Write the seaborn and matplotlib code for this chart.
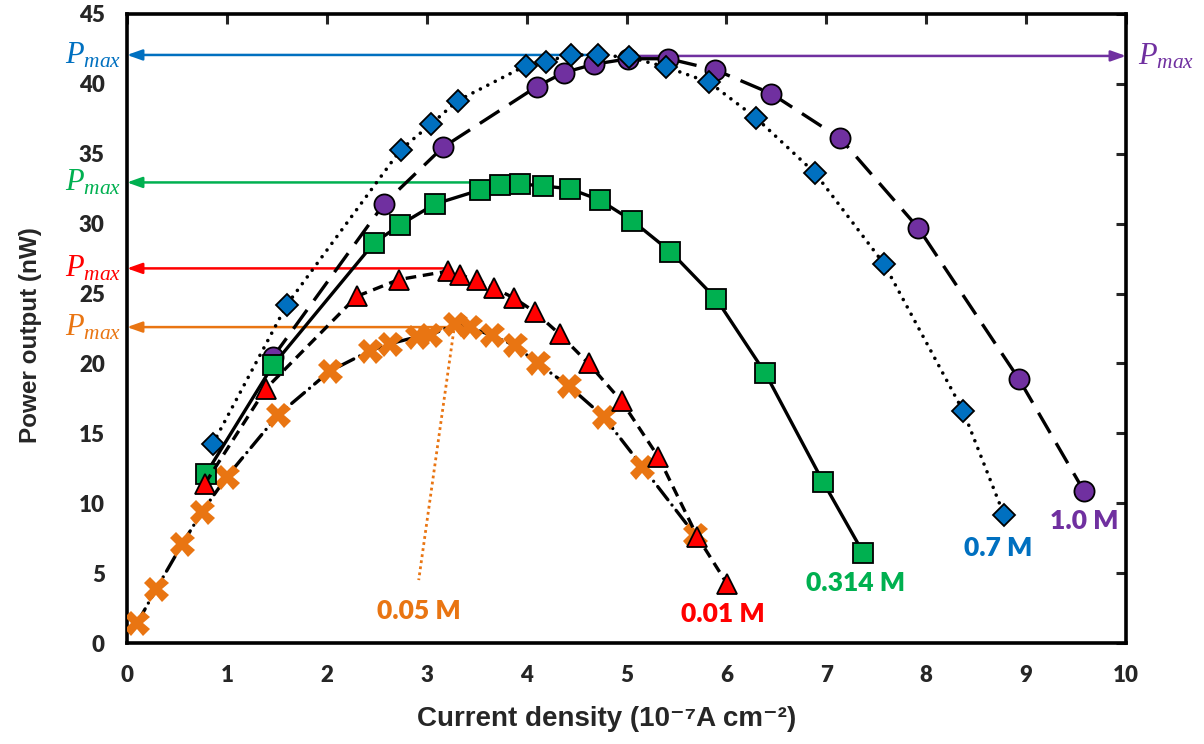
import numpy as np
import pandas as pd
import matplotlib
matplotlib.use("Agg")
import matplotlib.pyplot as plt
import seaborn as sns

# ---------------- data ----------------
x_10M = [1.46, 2.57, 3.16, 4.10, 4.37, 4.67, 5.02, 5.42, 5.89, 6.45, 7.14, 7.92, 8.93, 9.58]
p_10M = [20.45, 31.4, 35.45, 39.8, 40.8, 41.4, 41.8, 41.8, 41.0, 39.3, 36.1, 29.7, 18.86, 10.86]

x_07M = [0.86, 1.60, 2.74, 3.04, 3.31, 3.99, 4.19, 4.44, 4.71, 5.03, 5.40, 5.83, 6.30, 6.89, 7.58, 8.37, 8.78]
p_07M = [14.26, 24.2, 35.3, 37.1, 38.8, 41.3, 41.6, 42.07, 42.07, 41.9, 41.2, 40.1, 37.55, 33.6, 27.1, 16.6, 9.14]

x_005M = [0.10, 0.29, 0.55, 0.75, 1.00, 1.51, 2.03, 2.43, 2.63, 2.90, 3.03, 3.28, 3.43, 3.65,
          3.88, 4.11, 4.42, 4.77, 5.16, 5.69]
p_005M = [1.40, 3.83, 7.05, 9.38, 11.9, 16.3, 19.45, 20.9, 21.4, 21.9, 22.0, 22.8, 22.6, 22.0,
          21.3, 20.0, 18.4, 16.2, 12.6, 7.7]

x_0314M = [0.79, 1.46, 2.47, 2.73, 3.08, 3.53, 3.73, 3.93, 4.16, 4.43, 4.73, 5.06, 5.44, 5.90,
           6.39, 6.97, 7.37]
p_0314M = [12.1, 19.86, 28.6, 29.9, 31.4, 32.4, 32.8, 32.85, 32.7, 32.5, 31.7, 30.2, 28.0, 24.6,
           19.3, 11.5, 6.45]

x_001M = [0.78, 1.39, 2.30, 2.72, 3.21, 3.33, 3.50, 3.67, 3.87, 4.08, 4.33, 4.62, 4.95, 5.32,
          5.71, 6.01]
p_001M = [11.4, 18.2, 24.8, 26.0, 26.6, 26.3, 26.0, 25.4, 24.7, 23.7, 22.1, 20.0, 17.3, 13.3,
          7.6, 4.2]

series_names = ["1.0 M", "0.7 M", "0.05 M", "0.314 M", "0.01 M"]
series_x = [x_10M, x_07M, x_005M, x_0314M, x_001M]
series_p = [p_10M, p_07M, p_005M, p_0314M, p_001M]
colors = ["#7030A0", "#0070C0", "#E97512", "#00B050", "#FF0000"]

# P_max levels (arrow start x, level)
pmax_x = [5.02, 4.71, 3.28, 3.93, 3.21]
pmax_y = [42.0, 42.07, 22.6, 32.95, 26.8]

# concentration label positions
label_x = [9.58, 8.72, 2.92, 7.29, 5.96]
label_y = [8.7, 6.8, 2.3, 4.3, 2.1]

x_ticks = list(range(0, 11))
y_ticks = list(range(0, 46, 5))

# ---------------- style ----------------
sns.set_style("white")
plt.rcParams["font.family"] = ["Lato", "DejaVu Sans"]
plt.rcParams["mathtext.fontset"] = "custom"
plt.rcParams["mathtext.rm"] = "Liberation Serif"
plt.rcParams["mathtext.it"] = "Liberation Serif:italic"

fig = plt.figure(figsize=(12.04, 7.44), dpi=100)
ax = fig.add_axes([127 / 1204, 1 - 643 / 744, (1126 - 127) / 1204, (643 - 14) / 744])

markers = ["o", "D", "X", "s", "^"]
msizes = [14.5, 11.3, 18.0, 14.0, 15.0]
dash_styles = [(0, (7, 3.5)), (0, (0.01, 2.3)), (0, (5, 2, 0.01, 2)), "-", (0, (3.2, 2))]
line_w = [2.4, 2.6, 2.4, 2.4, 2.4]

rows = []
for name, xs, ps in zip(series_names, series_x, series_p):
    for xv, pv in zip(xs, ps):
        rows.append({"series": name, "j": xv, "P": pv})
df = pd.DataFrame(rows)

for i, name in enumerate(series_names):
    sub = df[df["series"] == name]
    if markers[i] == "X":
        mkw = dict(markerfacecolor=colors[i], markeredgecolor=colors[i], markeredgewidth=0.0)
    else:
        mkw = dict(markerfacecolor=colors[i], markeredgecolor="black", markeredgewidth=1.3)
    sns.lineplot(data=sub, x="j", y="P", ax=ax, color="black", estimator=None, sort=False,
                 marker=markers[i], markersize=msizes[i], linewidth=line_w[i], legend=False,
                 zorder=3 + i, **mkw)
    ln = ax.lines[-1]
    ln.set_linestyle(dash_styles[i])
    if i in (1, 2):
        ln.set_dash_capstyle("round")

# P_max arrows
for i in range(len(series_names)):
    target = 10.0 if i == 0 else 0.0
    ax.annotate("", xy=(target, pmax_y[i]), xytext=(pmax_x[i], pmax_y[i]),
                arrowprops=dict(arrowstyle="-|>,head_length=0.9,head_width=0.32",
                                color=colors[i], lw=1.8, shrinkA=0, shrinkB=0),
                annotation_clip=False, zorder=2)
    if i == 0:
        ax.text(10.12, pmax_y[i], r"$P_{max}$", color=colors[i], fontsize=22,
                fontweight="normal", ha="left", va="center", clip_on=False)
    else:
        ax.text(-0.06, pmax_y[i], r"$P_{max}$", color=colors[i], fontsize=22,
                fontweight="normal", ha="right", va="center", clip_on=False)

# dotted pointer for 0.05 M
ax.plot([x_005M[11], label_x[2]], [p_005M[11], label_y[2] + 2.2], color=colors[2],
        linestyle=(0, (1, 1.2)), linewidth=2.0, zorder=2.5)

# concentration labels
for i, name in enumerate(series_names):
    ax.text(label_x[i], label_y[i], name, color=colors[i], fontsize=19, fontweight="heavy",
            ha="center", va="center", family=["Lato", "DejaVu Sans"])

# axes
ax.set_xlim(0, 10)
ax.set_ylim(0, 45)
ax.set_xticks(x_ticks)
ax.set_yticks(y_ticks)
ax.set_xticklabels([str(t) for t in x_ticks], fontweight="heavy", fontsize=16)
ax.set_yticklabels([str(t) for t in y_ticks], fontweight="heavy", fontsize=16)
ax.tick_params(axis="both", which="both", direction="in", length=7, width=2.2,
               top=True, right=True, pad=16)
ax.tick_params(axis="x", top=True, labeltop=False)
ax.tick_params(axis="y", right=True, labelright=False)
for sp in ax.spines.values():
    sp.set_linewidth(2.6)
    sp.set_color("black")
    sp.set_visible(True)

ax.set_xlabel("Current density (10\u207b\u2077A cm\u207b\u00b2)", fontsize=20, fontweight="bold",
              family=["Liberation Sans", "DejaVu Sans"])
ax.set_ylabel("Power output (nW)", fontsize=17.5, fontweight="bold",
              family=["Liberation Sans", "DejaVu Sans"])
ax.xaxis.set_label_coords(0.48, -0.100)
ax.yaxis.set_label_coords(-0.085, 0.49)

fig.savefig("out.png", dpi=100)
